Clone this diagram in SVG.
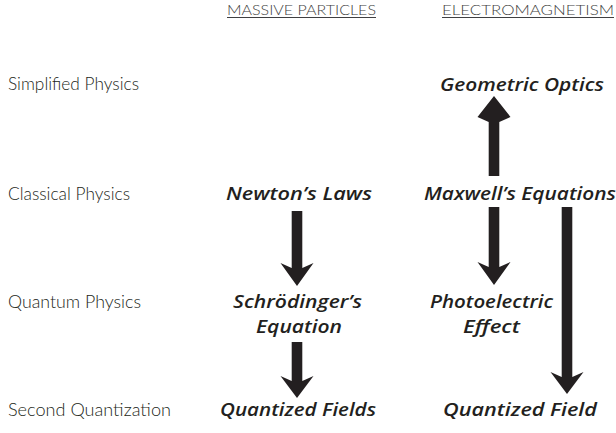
<svg xmlns="http://www.w3.org/2000/svg" width="616" height="433" viewBox="0 0 616 433">
<style>
.hdr{font-family:Lato,"Open Sans","Liberation Sans",sans-serif;font-weight:300;font-size:14.5px;fill:#3f3f41}
.row{font-family:Lato,"Open Sans","Liberation Sans",sans-serif;font-weight:300;font-size:18px;fill:#231f20}
.node{font-family:"Open Sans","Liberation Sans",sans-serif;font-weight:600;font-style:italic;font-size:18px;fill:#231f20;text-anchor:middle}
.ul{stroke:#3f3f41;stroke-width:1}
.arr{fill:#231f20}
</style>
<rect width="616" height="433" fill="#ffffff"/>
<g id="headers">
<text class="hdr" x="227" y="14.5" textLength="149" lengthAdjust="spacingAndGlyphs">MASSIVE PARTICLES</text>
<line class="ul" x1="227" y1="17.5" x2="376" y2="17.5"/>
<text class="hdr" x="442" y="14.5" textLength="172" lengthAdjust="spacingAndGlyphs">ELECTROMAGNETISM</text>
<line class="ul" x1="442" y1="17.5" x2="614" y2="17.5"/>
</g>
<g id="rows">
<text class="row" x="8" y="90" textLength="131" lengthAdjust="spacingAndGlyphs">Simplified Physics</text>
<text class="row" x="8" y="200" textLength="122" lengthAdjust="spacingAndGlyphs">Classical Physics</text>
<text class="row" x="8" y="308" textLength="133" lengthAdjust="spacingAndGlyphs">Quantum Physics</text>
<text class="row" x="8" y="416" textLength="163" lengthAdjust="spacingAndGlyphs">Second Quantization</text>
</g>
<g id="geometric-optics"><text class="node" x="522" y="91" textLength="164" lengthAdjust="spacingAndGlyphs">Geometric Optics</text></g>
<g id="newtons-laws"><text class="node" x="299" y="200" textLength="146" lengthAdjust="spacingAndGlyphs">Newton’s Laws</text></g>
<g id="maxwells-equations"><text class="node" x="520" y="200" textLength="192" lengthAdjust="spacingAndGlyphs">Maxwell’s Equations</text></g>
<g id="schrodingers-equation">
<text class="node" x="297.5" y="308" textLength="129" lengthAdjust="spacingAndGlyphs">Schrödinger’s</text>
<text class="node" x="299" y="333" textLength="86" lengthAdjust="spacingAndGlyphs">Equation</text>
</g>
<g id="photoelectric-effect">
<text class="node" x="491.5" y="308" textLength="123" lengthAdjust="spacingAndGlyphs">Photoelectric</text>
<text class="node" x="491.5" y="333" textLength="57" lengthAdjust="spacingAndGlyphs">Effect</text>
</g>
<g id="quantized-fields"><text class="node" x="298" y="416" textLength="156" lengthAdjust="spacingAndGlyphs">Quantized Fields</text></g>
<g id="quantized-field"><text class="node" x="520" y="416" textLength="154" lengthAdjust="spacingAndGlyphs">Quantized Field</text></g>
<g id="connectors">
<path class="arr" d="M488.7,176 H499.3 V122 L510.5,117 L494,96 L477.5,117 L488.7,122 Z"/>
<path class="arr" d="M291.7,211 H302.3 V268 L313.5,263 L297,286 L280.5,263 L291.7,268 Z"/>
<path class="arr" d="M488.7,207 H499.3 V267 L510.5,262 L494,285 L477.5,262 L488.7,267 Z"/>
<path class="arr" d="M561.7,207 H572.3 V377 L583.5,372 L567,394 L550.5,372 L561.7,377 Z"/>
<path class="arr" d="M291.7,342 H302.3 V381 L313.5,376 L297,398 L280.5,376 L291.7,381 Z"/>
</g>
</svg>
